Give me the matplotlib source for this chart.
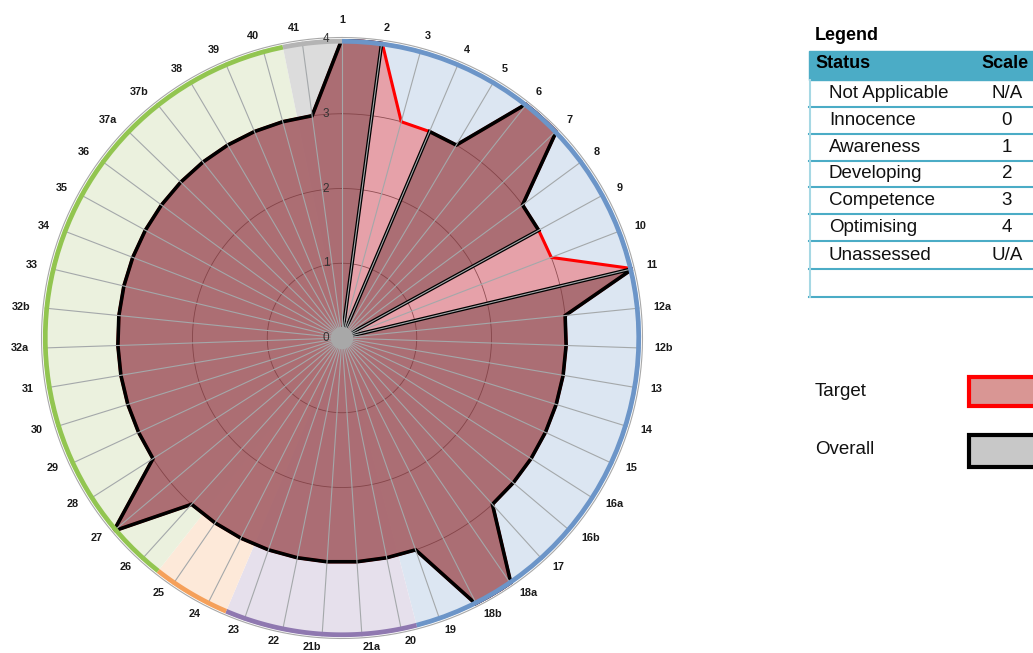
import numpy as np
import matplotlib
matplotlib.use("Agg")
import matplotlib.pyplot as plt
from matplotlib.patches import Rectangle

plt.rcParams['font.family'] = ['Liberation Sans', 'DejaVu Sans']

# chart data
categories = ['1', '2', '3', '4', '5', '6', '7', '8', '9', '10', '11', '12a', '12b',
              '13', '14', '15', '16a', '16b', '17', '18a', '18b', '19', '20', '21a',
              '21b', '22', '23', '24', '25', '26', '27', '28', '29', '30', '31', '32a',
              '32b', '33', '34', '35', '36', '37a', '37b', '38', '39', '40', '41']
overall = [4, 4, 0, 3, 3, 4, 4, 3, 3, 0, 4, 3, 3, 3, 3, 3, 3, 3, 3, 4, 4, 3, 3, 3,
           3, 3, 3, 3, 3, 3, 4, 3, 3, 3, 3, 3, 3, 3, 3, 3, 3, 3, 3, 3, 3, 3, 3]
target = [4, 4, 3, 3, 3, 4, 4, 3, 3, 3, 4, 3, 3, 3, 3, 3, 3, 3, 3, 4, 4, 3, 3, 3,
          3, 3, 3, 3, 3, 3, 4, 3, 3, 3, 3, 3, 3, 3, 3, 3, 3, 3, 3, 3, 3, 3, 3]
# background groups, spans in category positions
group_start = [0, 21.6, 26.5, 28.5, 45.5]
group_end = [21.6, 26.5, 28.5, 45.5, 47]
group_fill = ['#DCE6F2', '#E6E0EC', '#FDE9D9', '#EBF1DE', '#DCDCDC']
group_rim = ['#6C95C8', '#8F78B0', '#F5A05A', '#92C550', '#B4B4B4']

# legend table
status = ['Not Applicable', 'Innocence', 'Awareness', 'Developing', 'Competence',
          'Optimising', 'Unassessed']
scale = ['N/A', '0', '1', '2', '3', '4', 'U/A']

W, H = 1033, 653
fig = plt.figure(figsize=(W / 100, H / 100), dpi=100)
ax = fig.add_axes([(342 - 299) / W, (315 - 299) / H, 598 / W, 598 / H], projection='polar')
ax.set_theta_zero_location('N')
ax.set_theta_direction(-1)
ax.set_ylim(0, 4)
ax.grid(False)
ax.set_xticks([])
ax.set_yticks([])
ax.spines['polar'].set_visible(False)
ax.patch.set_alpha(0)

n = len(categories)
step = 2 * np.pi / n
theta = np.arange(n) * step

# background sectors and rim
for s, e, fc, rc in zip(group_start, group_end, group_fill, group_rim):
    ax.bar((s + e) / 2 * step, 4, width=(e - s) * step, bottom=0, color=fc,
           edgecolor='none', zorder=0)
    tt = np.linspace(s * step, e * step, 60)
    ax.plot(tt, np.full_like(tt, 3.97), color=rc, lw=3.4, zorder=7, clip_on=False,
            solid_capstyle='butt')
tt = np.linspace(0, 2 * np.pi, 400)
ax.plot(tt, np.full_like(tt, 4.02), color='#A8A8A8', lw=0.8, zorder=7, clip_on=False)

# series
th = np.append(theta, theta[0])
tv = np.append(target, target[0])
ov = np.append(overall, overall[0])
ax.fill(th, tv, color='#E8959D', alpha=0.85, zorder=1, lw=0)
ax.fill(th, ov, color='#844C52', alpha=0.6, zorder=2, lw=0)

# rings
for r in [1, 2, 3]:
    ax.plot(tt, np.full_like(tt, r), color='#7A3A3E', lw=0.6, alpha=0.8, zorder=3)

ax.plot(th, tv, color='red', lw=2.2, zorder=4, solid_joinstyle='miter')
ax.plot(th, ov, color='black', lw=2.6, zorder=5, solid_joinstyle='miter')

# spokes
for t in theta:
    ax.plot([t, t], [0, 4], color='#A4A8AA', lw=0.8, zorder=6)
ax.bar(0, 0.15, width=2 * np.pi, bottom=0, color='#A8A8A8', edgecolor='none', zorder=6)

# category labels, anchored outside the rim
for t, lab in zip(theta, categories):
    s, c = np.sin(t), np.cos(t)
    ha = 'left' if s > 0.02 else ('right' if s < -0.02 else 'center')
    dy = (10 if c > 0 else 7.5) * c + (4 if abs(s) < 0.02 else 0)
    ax.annotate(lab, xy=(t, 4), xytext=(10 * s, dy), textcoords='offset points',
                ha=ha, va='center', fontsize=7.8, fontweight='bold', color='#1A1A1A',
                annotation_clip=False)

# radial labels
for r in range(5):
    ax.annotate(str(r), xy=(0, r), xytext=(-11.5, 0), textcoords='offset points',
                ha='center', va='center', fontsize=8.5, color='#333333', zorder=8)


def fx(x):
    return x / W


def fy(y):
    return 1 - y / H


# legend table
fig.text(fx(815), fy(35), 'Legend', fontsize=13, fontweight='bold', va='center')
fig.patches.append(Rectangle((fx(809), fy(80)), fx(W - 809), (80 - 51) / H,
                             transform=fig.transFigure, color='#4BACC6', zorder=1))
fig.text(fx(815), fy(64), 'Status', fontsize=13, fontweight='bold', va='center')
fig.text(fx(981), fy(64), 'Scale', fontsize=13, fontweight='bold', va='center')
row_lines = [107, 134, 161, 187, 214, 241, 269, 297]
row_top = 80
for i, (st, sc) in enumerate(zip(status, scale)):
    y0 = row_top if i == 0 else row_lines[i - 1]
    yc = (y0 + row_lines[i]) / 2
    fig.text(fx(829), fy(yc), st, fontsize=13.5, va='center', color='#111111')
    fig.text(fx(1007), fy(yc), sc, fontsize=13.5, va='center', ha='center', color='#111111')
for y in row_lines:
    fig.add_artist(plt.Line2D([fx(809), 1], [fy(y), fy(y)], color='#4BACC6', lw=1.5))
fig.add_artist(plt.Line2D([fx(810), fx(810)], [fy(80), fy(297)], color='#A6D8E4', lw=1.5))

# series key
fig.text(fx(815), fy(391), 'Target', fontsize=13.5, va='center', color='#111111')
fig.text(fx(815), fy(450), 'Overall', fontsize=13.5, va='center', color='#111111')
fig.patches.append(Rectangle((fx(969), fy(406)), fx(80), 29 / H, transform=fig.transFigure,
                             facecolor='#D99694', edgecolor='red', lw=3))
fig.patches.append(Rectangle((fx(969), fy(467)), fx(80), 32 / H, transform=fig.transFigure,
                             facecolor='#C8C8C8', edgecolor='black', lw=3))

fig.savefig('out.png', dpi=100)
